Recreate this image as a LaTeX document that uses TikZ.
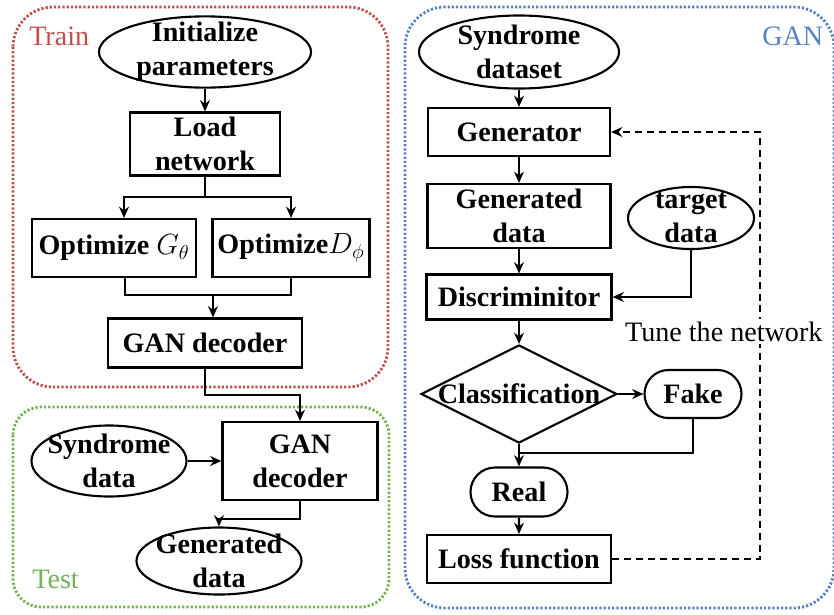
\documentclass[tikz,border=0pt]{standalone}
\usepackage{fontspec}
\setmainfont{Liberation Serif}
\usetikzlibrary{arrows.meta,shapes.geometric,shapes.misc}
\definecolor{trainred}{RGB}{192,80,77}
\definecolor{testgreen}{RGB}{118,178,84}
\definecolor{ganblue}{RGB}{86,130,196}
\newcommand{\boxfont}{\fontsize{20}{24}\selectfont\bfseries}
\newcommand{\tagfont}{\fontsize{20}{24}\selectfont}

\begin{document}
\begin{tikzpicture}[x=0.025cm,y=-0.025cm]
          \tikzstyle{every node}=[font=\boxfont,align=center];
          \tikzstyle{block}=[draw,rectangle,line width=1.5pt,inner sep=0pt];
          \tikzstyle{terminal}=[draw,ellipse,line width=1.5pt,inner sep=-6pt];
          \tikzstyle{pill}=[draw,rounded rectangle,line width=1.5pt,inner sep=0pt];
          \tikzstyle{decision}=[draw,diamond,line width=1.5pt,inner sep=0pt];
          \tikzstyle{arr}=[line width=1.5pt,-{Stealth[length=8pt,width=7pt]}];
          \tikzstyle{link}=[line width=1.5pt];
          \tikzstyle{feedback}=[line width=1.4pt,dash pattern=on 5pt off 3.5pt,-{Stealth[length=8pt,width=7pt]}];
          \tikzstyle{frame}=[line width=2pt,dash pattern=on 1.6pt off 1.4pt,rounded corners=1cm];
          \tikzstyle{tag}=[font=\tagfont,anchor=base west,inner sep=0pt];
          \useasboundingbox (0,0) rectangle (834,614);
          %frames
          \draw[frame,trainred] (13,7) rectangle (388,387);
          \draw[frame,testgreen,rounded corners=0.7cm] (13,407) rectangle (389,607);
          \draw[frame,ganblue] (405,7) rectangle (834,608);
          \node[tag,text=trainred] (trainlbl) at (29,45) {Train};
          \node[tag,text=testgreen] (testlbl) at (32,588) {Test};
          \node[tag,text=ganblue] (ganlbl) at (762,45) {GAN};
          %train
          \node[terminal,minimum width=5.3cm,minimum height=1.78cm] (init) at (205,52) {Initialize\\parameters};
          \node[block,minimum width=3.75cm,minimum height=1.575cm] (load) at (205,144) {Load\\network};
          \node[block,minimum width=4.1cm,minimum height=1.45cm] (optg) at (114,248) {Optimize $G_\theta$};
          \node[block,minimum width=3.925cm,minimum height=1.45cm] (optd) at (291,248) {Optimize$D_\phi$};
          \node[block,minimum width=4.85cm,minimum height=1.225cm] (gand) at (205,343) {GAN decoder};
          \coordinate (split) at (205,197);
          \coordinate (merge) at (213,295);
          \coordinate (bend) at (205,395);
          %test
          \node[block,minimum width=3.875cm,minimum height=1.95cm] (tdec) at (300,461) {GAN\\decoder};
          \node[terminal,minimum width=3.875cm,minimum height=1.775cm] (synd) at (109,461) {Syndrome\\data};
          \node[terminal,minimum width=4.125cm,minimum height=1.675cm] (gout) at (219,561) {Generated\\data};
          %gan
          \node[terminal,minimum width=5cm,minimum height=1.825cm] (sds) at (519,52) {Syndrome\\dataset};
          \node[block,minimum width=4.55cm,minimum height=1.2cm] (gen) at (519,132) {Generator};
          \node[block,minimum width=4.575cm,minimum height=1.6cm] (gdata) at (519,216) {Generated\\data};
          \node[terminal,minimum width=3.15cm,minimum height=1.55cm] (tgt) at (691,218) {target\\data};
          \node[block,minimum width=4.625cm,minimum height=1.125cm] (disc) at (519,297) {Discriminitor};
          \node[decision,minimum width=4.9cm,minimum height=2.45cm] (cls) at (519,394) {\makebox[0pt]{Classification}};
          \node[pill,minimum width=2.425cm,minimum height=1.2cm] (fake) at (693,394) {Fake};
          \node[pill,minimum width=2.425cm,minimum height=1.225cm] (real) at (519,492) {Real};
          \node[block,minimum width=4.6cm,minimum height=1.2cm] (loss) at (519,559) {Loss function};
          \coordinate (join) at (519,453);
          \coordinate (back) at (760,132);
          \draw[arr] (init) -- (load);
          \draw[link] (load) -- (split);
          \draw[arr] (split) -| ([xshift=0.25cm]optg.north);
          \draw[arr] (split) -| (optd.north);
          \draw[link] ([xshift=0.275cm]optg.south) |- (merge) -| (optd.south);
          \draw[arr] (merge) -- (merge |- gand.north);
          \draw[arr] (gand.south) -- (bend) -| (tdec.north);
          \draw[arr] (synd) -- (tdec);
          \draw[arr] (tdec.south) -- ++(0,18) -| (gout.north);
          \draw[arr] (sds) -- (gen);
          \draw[arr] (gen) -- (gdata);
          \draw[arr] (gdata) -- (disc);
          \draw[arr] (tgt.south) |- (disc.east);
          \draw[arr] (disc) -- (cls);
          \draw[arr] (cls) -- (fake);
          \draw[link] (fake.south) |- (join);
          \draw[arr] (cls.south) -- (real.north);
          \draw[arr] (real) -- (loss);
          \draw[feedback] (loss.east) -| (back) -- (gen.east);
          \node[tag,fill=white,inner sep=2pt] (tune) at (622,341) {Tune the network};
      \end{tikzpicture}
\end{document}
